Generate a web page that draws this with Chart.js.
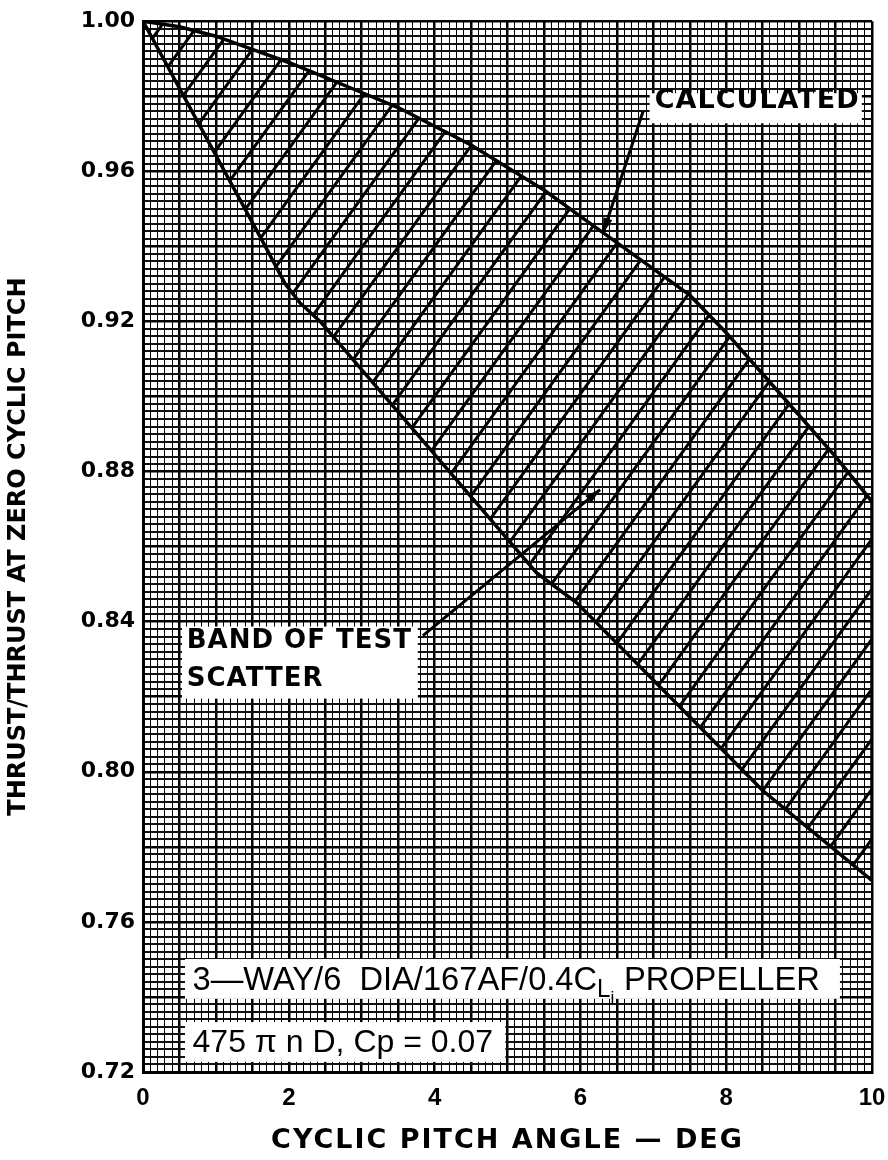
<!DOCTYPE html>
<html>
<head>
<meta charset="utf-8">
<script src="https://cdn.jsdelivr.net/npm/chart.js@4.4.0/dist/chart.umd.min.js"></script>
<style>
  html, body { margin: 0; padding: 0; background: #fff; }
  #wrap { width: 888px; height: 1160px; }
</style>
</head>
<body>
<div id="wrap"><canvas id="myChart" width="888" height="1160"></canvas></div>
<script>
'use strict';

// upper edge of the scatter band = calculated curve
let upperX = [0, 0.5, 1, 1.5, 2, 2.5, 3, 3.5, 4, 4.5, 5, 5.5, 6, 6.5, 7, 7.5, 8, 8.5, 9, 9.5, 10];
let upperY = [1.000, 0.9985, 0.996, 0.9925, 0.989, 0.985, 0.981, 0.977, 0.972, 0.967, 0.961,
              0.955, 0.948, 0.941, 0.934, 0.927, 0.917, 0.906, 0.895, 0.884, 0.872];

// lower edge of the band, right to left
let lowerX = [10, 8.5, 5.95, 5.4, 5.0, 2.43, 2.15, 1.95, 1.65, 0];
let lowerY = [0.771, 0.795, 0.845, 0.853, 0.862, 0.920, 0.925, 0.930, 0.941, 1.000];

let xTicks = [0, 2, 4, 6, 8, 10];
let yTicks = [0.72, 0.76, 0.80, 0.84, 0.88, 0.92, 0.96, 1.00];

let bandPoints = [];
for (let i = 0; i < upperX.length; i++) {
    bandPoints.push({ x: upperX[i], y: upperY[i] });
}
for (let i = 0; i < lowerX.length; i++) {
    bandPoints.push({ x: lowerX[i], y: lowerY[i] });
}

// diagonal hatching for the band
function hatch() {
    let c = document.createElement('canvas');
    let w = 36, h = 50;
    c.width = w;
    c.height = h;
    let g = c.getContext('2d');
    g.strokeStyle = '#000';
    g.lineWidth = 3;
    for (let k = -1; k <= 1; k++) {
        g.beginPath();
        g.moveTo(k * w - w, 2 * h);
        g.lineTo(k * w + 2 * w, -h);
        g.stroke();
    }
    return g.createPattern(c, 'repeat');
}

function isMajorX(v) {
    return Math.round(v * 10) % 5 === 0;
}
function isMajorY(v) {
    return Math.round(v * 1000) % 20 === 0;
}

function arrow(ctx, x1, y1, x2, y2) {
    ctx.beginPath();
    ctx.moveTo(x1, y1);
    ctx.lineTo(x2, y2);
    ctx.stroke();
    let a = Math.atan2(y2 - y1, x2 - x1);
    ctx.beginPath();
    ctx.moveTo(x2, y2);
    ctx.lineTo(x2 - 16 * Math.cos(a - 0.3), y2 - 16 * Math.sin(a - 0.3));
    ctx.lineTo(x2 - 16 * Math.cos(a + 0.3), y2 - 16 * Math.sin(a + 0.3));
    ctx.closePath();
    ctx.fill();
}

// labels and arrows on top of the graph paper
const notes = {
    id: 'notes',
    afterDatasetsDraw(chart) {
        const { ctx } = chart;
        const xs = chart.scales.x, ys = chart.scales.y;
        const px = v => xs.getPixelForValue(v);
        const py = v => ys.getPixelForValue(v);

        function box(x0, y0, x1, y1) {
            ctx.fillStyle = '#fff';
            ctx.fillRect(px(x0), py(y0), px(x1) - px(x0), py(y1) - py(y0));
        }

        ctx.save();
        ctx.strokeStyle = '#000';
        ctx.fillStyle = '#000';
        ctx.lineWidth = 3;
        arrow(ctx, px(6.86), py(0.976), px(6.31), py(0.9435));
        arrow(ctx, px(3.84), py(0.8363), px(6.27), py(0.8752));

        box(6.95, 0.9808, 9.86, 0.9728);
        box(0.535, 0.8387, 3.77, 0.8195);
        box(0.576, 0.7501, 9.56, 0.7395);
        box(0.576, 0.7333, 4.97, 0.7227);

        ctx.fillStyle = '#000';
        ctx.textBaseline = 'alphabetic';
        ctx.textAlign = 'left';
        ctx.letterSpacing = '1px';
        ctx.font = 'bold 27px "DejaVu Sans"';
        ctx.fillText('CALCULATED', px(7.02), py(0.9770));

        ctx.font = 'bold 26px "DejaVu Sans"';
        ctx.fillText('BAND OF TEST', px(0.6), py(0.8330));
        ctx.fillText('SCATTER', px(0.6), py(0.8228));
        ctx.letterSpacing = '0px';

        // propeller line, slightly condensed
        let x0 = px(0.68), base = py(0.7418);
        ctx.save();
        ctx.translate(x0, base);
        ctx.scale(0.96, 1);
        let cx = 0;
        ctx.font = '34px "Liberation Sans"';
        let t = '3\u2014WAY/6  DIA/167AF/0.4C';
        ctx.fillText(t, cx, 0);
        cx += ctx.measureText(t).width;
        ctx.font = '25px "Liberation Sans"';
        ctx.fillText('L', cx, 7);
        cx += ctx.measureText('L').width;
        ctx.font = '18px "Liberation Sans"';
        ctx.fillText('i', cx, 14);
        cx += ctx.measureText('i').width + 10;
        ctx.font = '34px "Liberation Sans"';
        ctx.fillText('PROPELLER', cx, 0);
        ctx.restore();

        ctx.font = '32px "Liberation Sans"';
        ctx.fillText('475 \u03c0 n D, Cp = 0.07', px(0.68), py(0.7252));
        ctx.restore();
    },
    afterDraw(chart) {
        // x axis title, spaced out a little
        const ctx = chart.ctx;
        const area = chart.chartArea;
        ctx.save();
        ctx.fillStyle = '#000';
        ctx.textAlign = 'center';
        ctx.textBaseline = 'middle';
        ctx.letterSpacing = '2px';
        ctx.font = 'bold 27px "DejaVu Sans"';
        ctx.fillText('CYCLIC PITCH ANGLE \u2014 DEG', (area.left + area.right) / 2, 1141);
        ctx.restore();
    }
};

new Chart(document.getElementById('myChart'), {
    type: 'scatter',
    data: {
        datasets: [{
            label: 'Band of test scatter',
            data: bandPoints,
            showLine: true,
            fill: 'shape',
            backgroundColor: hatch(),
            borderColor: '#000',
            borderWidth: 3.5,
            pointRadius: 0,
            tension: 0
        }]
    },
    options: {
        responsive: false,
        animation: false,
        devicePixelRatio: 1,
        layout: { padding: { top: 20, right: 16, left: 0, bottom: 0 } },
        plugins: { legend: { display: false }, tooltip: { enabled: false } },
        scales: {
            x: {
                type: 'linear',
                min: 0,
                max: 10,
                afterFit(scale) {
                    scale.height = 88;
                    scale.paddingLeft = 0;
                    scale.paddingRight = 0;
                },
                border: { color: '#000', width: 3 },
                grid: {
                    drawTicks: false,
                    color: ctx => isMajorX(ctx.tick.value) ? '#000' : '#000',
                    lineWidth: ctx => isMajorX(ctx.tick.value) ? 2.5 : 1
                },
                ticks: {
                    stepSize: 0.1,
                    autoSkip: false,
                    maxRotation: 0,
                    padding: 12,
                    color: '#000',
                    font: { family: '"Liberation Sans"', size: 24, weight: 'bold' },
                    callback: v => xTicks.includes(Math.round(v * 10) / 10) ? String(Math.round(v)) : ''
                }
            },
            y: {
                type: 'linear',
                min: 0.72,
                max: 1.0,
                afterFit(scale) { scale.width = 143; },
                border: { color: '#000', width: 3 },
                grid: {
                    drawTicks: false,
                    color: ctx => isMajorY(ctx.tick.value) ? '#000' : '#111',
                    lineWidth: ctx => isMajorY(ctx.tick.value) ? 2.5 : 2
                },
                ticks: {
                    stepSize: 0.002,
                    autoSkip: false,
                    padding: 8,
                    color: '#000',
                    font: { family: '"DejaVu Sans"', size: 22, weight: 'bold' },
                    callback: v => yTicks.includes(Math.round(v * 100) / 100) && Math.round(v * 1000) % 40 === 0 ? v.toFixed(2) : ''
                },
                title: {
                    display: true,
                    text: 'THRUST/THRUST AT ZERO CYCLIC PITCH',
                    color: '#000',
                    padding: { top: 4, bottom: 0 },
                    font: { family: '"DejaVu Sans"', size: 24, weight: 'bold' }
                }
            }
        }
    },
    plugins: [notes]
});
</script>
</body>
</html>
